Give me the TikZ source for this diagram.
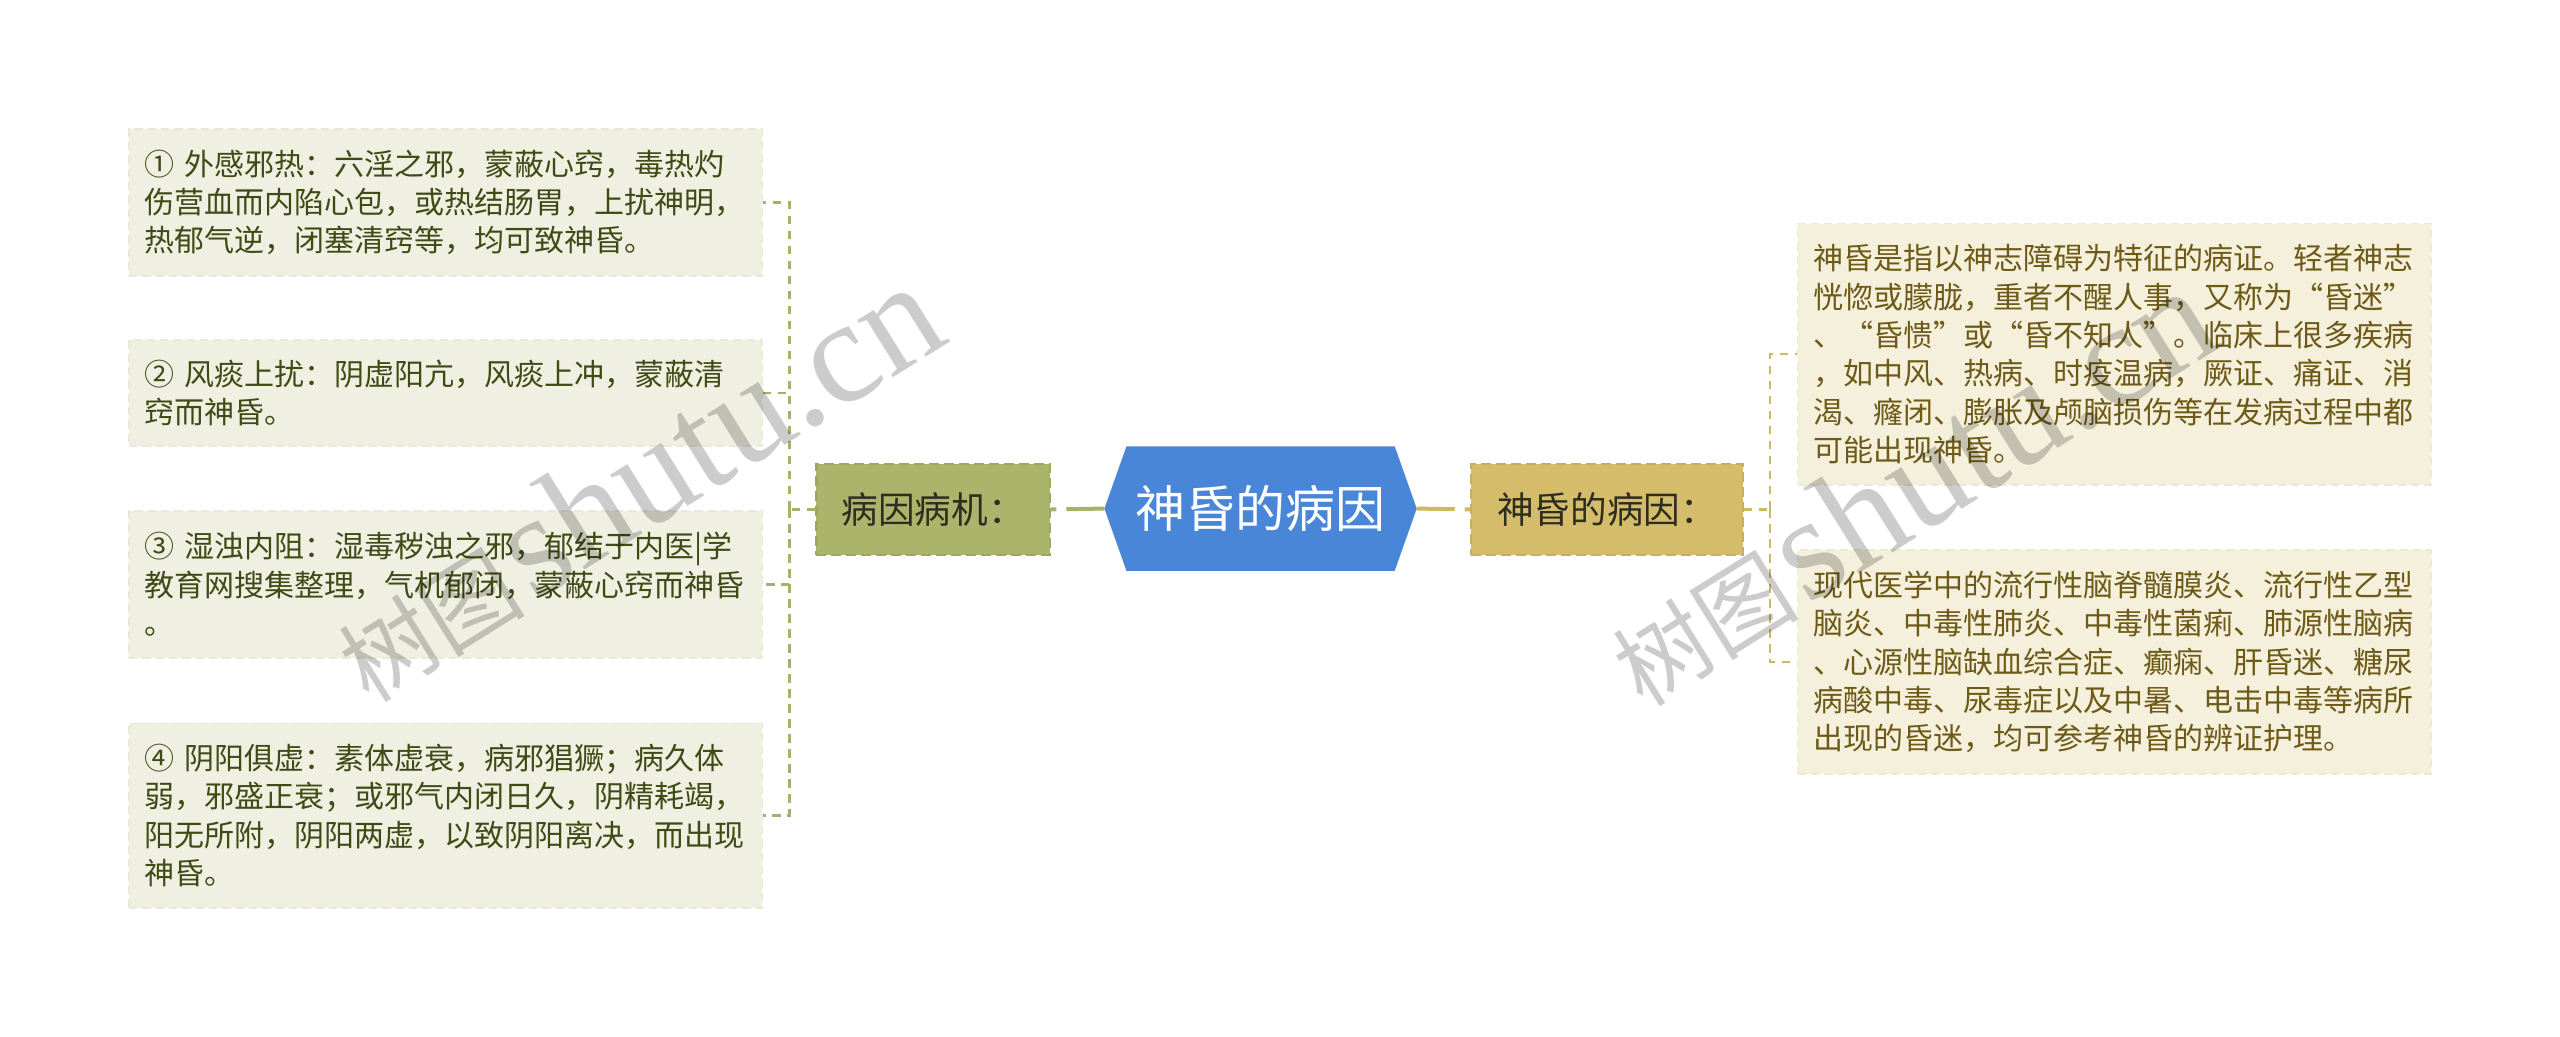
\documentclass[tikz,border=0pt]{standalone}
\usepackage{fontspec}
\setmainfont{Noto Sans CJK SC}
\newfontfamily\wmlatin{Liberation Serif}
\usetikzlibrary{backgrounds}
\definecolor{lbox}{HTML}{EFEFE2}
\definecolor{rbox}{HTML}{F5F0DC}
\definecolor{ltext}{HTML}{3F4B15}
\definecolor{rtext}{HTML}{6E5A17}
\definecolor{gbox}{HTML}{AAB46A}
\definecolor{ybox}{HTML}{D4BC6B}
\definecolor{hexblue}{HTML}{4A86D8}
\definecolor{gline}{HTML}{A9B06C}
\definecolor{yline}{HTML}{D0B862}
\definecolor{midtext}{HTML}{2E2E1E}
\newcommand{\zhlq}{\makebox[1em][r]{“}}
\newcommand{\zhrq}{\makebox[1em][l]{”}}
\tikzset{
  leaf/.style={rectangle, minimum width=190pt, text width=180.6pt, inner xsep=4.7pt,
    inner ysep=0pt, align=left, font=\fontsize{9}{11.5}\selectfont,
    line width=0.5pt, dash pattern=on 2.5pt off 1.5pt},
  lleaf/.style={leaf, fill=lbox, draw=lbox!97!black, text=ltext},
  rleaf/.style={leaf, fill=rbox, draw=rbox!97!black, text=rtext},
  midbox/.style={rectangle, minimum height=27.4pt, inner sep=0pt, text=midtext,
    font=\fontsize{11}{13}\selectfont, line width=0.7pt, dash pattern=on 3pt off 1.5pt},
  hexnode/.style={rectangle, minimum width=93.3pt, minimum height=36.9pt, inner sep=0pt,
    text=white, font=\fontsize{15}{17}\selectfont},
  lconn/.style={draw=gline, line width=0.7pt, dash pattern=on 2.5pt off 2pt},
  rconn/.style={draw=yline, line width=0.7pt, dash pattern=on 2.5pt off 2pt},
  mainconn/.style={line width=1.2pt, dash pattern=on 11.4pt off 3pt},
  wm/.style={inner sep=0pt, text=black, text opacity=0.2},
}
\begin{document}
\begin{tikzpicture}[x=0.4898pt, y=-0.4898pt]
\useasboundingbox (0,0) rectangle (1568,635);

% centre
\node[hexnode] (hex) at (772.1,311.5) {神昏的病因};
\begin{scope}[on background layer]
\fill[hexblue] (hex.west) -- ([xshift=6.6pt]hex.north west) -- ([xshift=-6.6pt]hex.north east)
  -- (hex.east) -- ([xshift=-6.6pt]hex.south east) -- ([xshift=6.6pt]hex.south west) -- cycle;
\end{scope}

% branch boxes
\node[midbox, fill=gbox, draw=gbox!93!black, minimum width=70pt] (bl) at (571.5,312) {病因病机：};
\node[midbox, fill=ybox, draw=ybox!93!black, minimum width=81.5pt] (br) at (984.3,312) {神昏的病因：};

% left leaves
\node[lleaf, minimum height=44.1pt] (l1) at (273,124) {① 外感邪热：六淫之邪，蒙蔽心窍，毒热灼\\伤营血而内陷心包，或热结肠胃，上扰神明，\\热郁气逆，闭塞清窍等，均可致神昏。};
\node[lleaf, minimum height=31.8pt] (l2) at (273,240.5) {② 风痰上扰：阴虚阳亢，风痰上冲，蒙蔽清\\窍而神昏。};
\node[lleaf, minimum height=44.1pt] (l3) at (273,358) {③ 湿浊内阻：湿毒秽浊之邪，郁结于内医|学\\教育网搜集整理，气机郁闭，蒙蔽心窍而神昏\\。};
\node[lleaf, minimum height=55.3pt] (l4) at (273,499.5) {④ 阴阳俱虚：素体虚衰，病邪猖獗；病久体\\弱，邪盛正衰；或邪气内闭日久，阴精耗竭，\\阳无所附，阴阳两虚，以致阴阳离决，而出现\\神昏。};

% right leaves
\node[rleaf, minimum height=78.4pt] (r1) at (1295,217) {神昏是指以神志障碍为特征的病证。轻者神志\\恍惚或朦胧，重者不醒人事，又称为\zhlq 昏迷\zhrq\\、\zhlq 昏愦\zhrq 或\zhlq 昏不知人\zhrq 。临床上很多疾病\\，如中风、热病、时疫温病，厥证、痛证、消\\渴、癃闭、膨胀及颅脑损伤等在发病过程中都\\可能出现神昏。};
\node[rleaf, minimum height=67.1pt] (r2) at (1295,405.5) {现代医学中的流行性脑脊髓膜炎、流行性乙型\\脑炎、中毒性肺炎、中毒性菌痢、肺源性脑病\\、心源性脑缺血综合症、癫痫、肝昏迷、糖尿\\病酸中毒、尿毒症以及中暑、电击中毒等病所\\出现的昏迷，均可参考神昏的辨证护理。};

% main connectors
\draw[mainconn, draw=gline] (hex.west) -- (bl.east);
\draw[mainconn, draw=yline] (hex.east) -- (br.west);

% left tree connectors
\coordinate (jl) at (483.5,312);
\draw[lconn] (bl.west) -- (jl);
\draw[lconn] (jl) |- (l1.east);
\draw[lconn] (jl) |- (l2.east);
\draw[lconn] (jl) |- (l3.east);
\draw[lconn] (jl) |- (l4.east);

% right tree connectors
\coordinate (jr) at (1084,312);
\draw[rconn] (br.east) -- (jr);
\draw[rconn] (jr) |- (r1.west);
\draw[rconn] (jr) |- (r2.west);

% watermarks
\node[wm, anchor=base west, rotate=32] (wm1) at (226,432)
  {{\fontsize{28}{28}\selectfont 树图} {\wmlatin\fontsize{44}{44}\selectfont shutu.cn}};
\node[wm, anchor=base west, rotate=32] (wm2) at (1006,434)
  {{\fontsize{28}{28}\selectfont 树图} {\wmlatin\fontsize{44}{44}\selectfont shutu.cn}};
\end{tikzpicture}
\end{document}
